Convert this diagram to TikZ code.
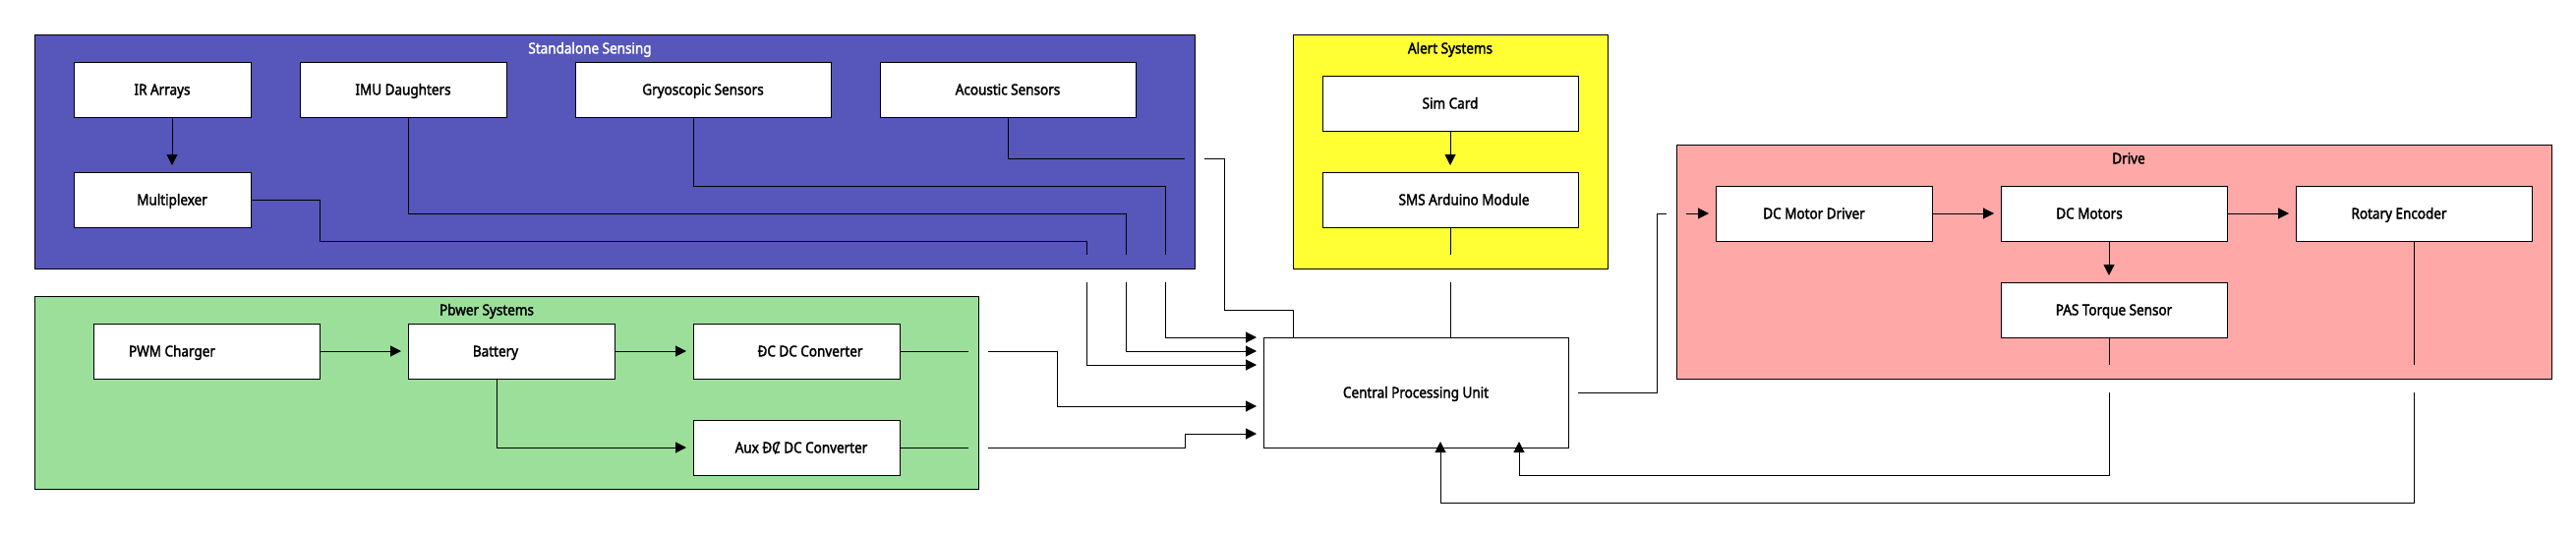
\documentclass[tikz,border=0pt]{standalone}
\usepackage{fontspec}
\setmainfont{Noto Sans}[FakeStretch=0.9, FakeBold=2.2]
\usetikzlibrary{arrows.meta,positioning}

\definecolor{sensingblue}{RGB}{86,86,187}
\definecolor{alertyellow}{RGB}{255,255,51}
\definecolor{powergreen}{RGB}{155,223,155}
\definecolor{drivepink}{RGB}{255,168,168}

\tikzset{
    groupbox/.style={draw, line width=1pt, outer sep=0pt, inner sep=0pt},
    grouptitle/.style={inner sep=0pt},
    block/.style={draw, fill=white, line width=1pt, outer sep=0pt, inner sep=0pt, minimum height=56},
    wire/.style={line width=1pt},
    arr/.style={line width=1pt, -{Triangle[length=11pt,width=11pt]}, shorten >=7pt}
}

\begin{document}
\begin{tikzpicture}[x=1pt, y=-1pt, font=\fontsize{15}{18}\selectfont, text height=10.7pt, text depth=0pt]
        \useasboundingbox (0,0) rectangle (2620,546);

        \node[groupbox, fill=sensingblue, minimum width=1180, minimum height=238] (sensing) at (625,154) {};
        \node[groupbox, fill=alertyellow, minimum width=320, minimum height=238] (alert) at (1475,154) {};
        \node[groupbox, fill=powergreen, minimum width=960, minimum height=196] (power) at (515,399) {};
        \node[groupbox, fill=drivepink, minimum width=890, minimum height=238] (drive) at (2150,266) {};

        \node[grouptitle, text=white] (sensingtitle) at ([xshift=-25pt, yshift=-14pt]sensing.north) {Standalone Sensing};
        \node[grouptitle] (alerttitle) at ([yshift=-14pt]alert.north) {Alert Systems};
        \node[grouptitle] (powertitle) at ([xshift=-20pt, yshift=-14pt]power.north) {Pbwer Systems};
        \node[grouptitle] (drivetitle) at ([xshift=15pt, yshift=-14pt]drive.north) {Drive};

        \node[block, minimum width=180] (ir) at (165,91) {IR Arrays};
        \node[block, minimum width=210] (imu) [right=50pt of ir] {IMU Daughters};
        \node[block, minimum width=260] (gyro) [right=70pt of imu] {Gryoscopic Sensors};
        \node[block, minimum width=260] (acou) [right=50pt of gyro] {Acoustic Sensors};
        \node[block, minimum width=180, label={[xshift=10pt]center:Multiplexer}] (mux) [below=56pt of ir] {};

        \node[block, minimum width=260] (sim) at (1475,105) {Sim Card};
        \node[block, minimum width=260, label={[xshift=14pt]center:SMS Arduino Module}] (sms) [below=42pt of sim] {};

        \node[block, minimum width=230, label={[xshift=-35pt]center:PWM Charger}] (pwm) at (210,357) {};
        \node[block, minimum width=210, label={[xshift=-16pt]center:Battery}] (batt) [right=90pt of pwm] {};
        \node[block, minimum width=210, label={[xshift=14pt]center:ĐC DC Converter}] (dcdc) [right=80pt of batt] {};
        \node[block, minimum width=210, label={[xshift=5pt]center:Aux ĐȻ DC Converter}] (aux) [below=42pt of dcdc] {};

        \node[block, minimum width=310, minimum height=112] (cpu) at (1440,399) {Central Processing Unit};

        \node[block, minimum width=220, label={[xshift=-10pt]center:DC Motor Driver}] (dmd) at (1855,217) {};
        \node[block, minimum width=230, label={[xshift=-25pt]center:DC Motors}] (dcm) [right=70pt of dmd] {};
        \node[block, minimum width=240, label={[xshift=-15pt]center:Rotary Encoder}] (rot) [right=70pt of dcm] {};
        \node[block, minimum width=230] (pas) [below=42pt of dcm] {PAS Torque Sensor};

        \coordinate (muxgapA) at (1105,259);
        \coordinate (muxgapB) at (1105,287);
        \coordinate (imugapA) at (1145,259);
        \coordinate (imugapB) at (1145,287);
        \coordinate (gyrogapA) at (1185,259);
        \coordinate (gyrogapB) at (1185,287);
        \coordinate (acougapA) at (1205,161);
        \coordinate (acougapB) at (1225,161);
        \coordinate (smsgapA) at (1475,259);
        \coordinate (smsgapB) at (1475,287);
        \coordinate (dcdcgapA) at (985,357);
        \coordinate (dcdcgapB) at (1005,357);
        \coordinate (auxgapA) at (985,455);
        \coordinate (auxgapB) at (1005,455);
        \coordinate (drvgapA) at (1695,217);
        \coordinate (drvgapB) at (1715,217);
        \coordinate (pasgapA) at (2145,371);
        \coordinate (pasgapB) at (2145,399);
        \coordinate (rotgapA) at (2455,371);
        \coordinate (rotgapB) at (2455,399);

        %ir to mux
        \draw[arr] ([xshift=10pt]ir.south) -- ([xshift=10pt]mux.north);

        %mux to cpu
        \draw[wire] (mux.east) -| (325,245) -| (muxgapA);
        \draw[arr] (muxgapB) |- ([yshift=28pt]cpu.west);

        %imu to cpu
        \draw[wire] ([xshift=5pt]imu.south) -- ++(0,98) -| (imugapA);
        \draw[arr] (imugapB) |- ([yshift=42pt]cpu.west);

        %gyro to cpu
        \draw[wire] ([xshift=-10pt]gyro.south) -- ++(0,70) -| (gyrogapA);
        \draw[arr] (gyrogapB) |- (cpu.north west);

        %acoustic to cpu
        \draw[wire] (acou.south) |- (acougapA);
        \draw[wire] (acougapB) -| (1245,315) -| ([xshift=30pt]cpu.north west);

        %sim to sms to cpu
        \draw[arr] (sim) -- (sms);
        \draw[wire] (sms.south) -- (smsgapA);
        \draw[wire] (smsgapB) -- (smsgapB |- cpu.north);

        %power chain
        \draw[arr] (pwm) -- (batt);
        \draw[arr] (batt) -- (dcdc);
        \draw[arr] ([xshift=-15pt]batt.south) |- (aux);

        %converters to cpu
        \draw[wire] (dcdc.east) -- (dcdcgapA);
        \draw[arr] (dcdcgapB) -| (1075,413) -- ([yshift=-14pt]cpu.west);
        \draw[wire] (aux.east) -- (auxgapA);
        \draw[arr] (auxgapB) -| (1205,441) -- ([yshift=-42pt]cpu.west);

        %cpu to drive
        \draw[wire] ([xshift=10pt]cpu.east) -| (1685,217) -- (drvgapA);
        \draw[arr] (drvgapB) -- (dmd);

        %drive chain
        \draw[arr] (dmd) -- (dcm);
        \draw[arr] (dcm) -- (rot);
        \draw[arr] ([xshift=-5pt]dcm.south) -- ([xshift=-5pt]pas.north);

        %pas and rotary back to cpu
        \draw[wire] ([xshift=-5pt]pas.south) -- (pasgapA);
        \draw[arr, shorten >=-6pt] (pasgapB) |- (1545,483) -- ([xshift=105pt]cpu.south);
        \draw[wire] (rot.south) -- (rotgapA);
        \draw[arr, shorten >=-6pt] (rotgapB) |- (1465,511) -- ([xshift=25pt]cpu.south);
\end{tikzpicture}
\end{document}
